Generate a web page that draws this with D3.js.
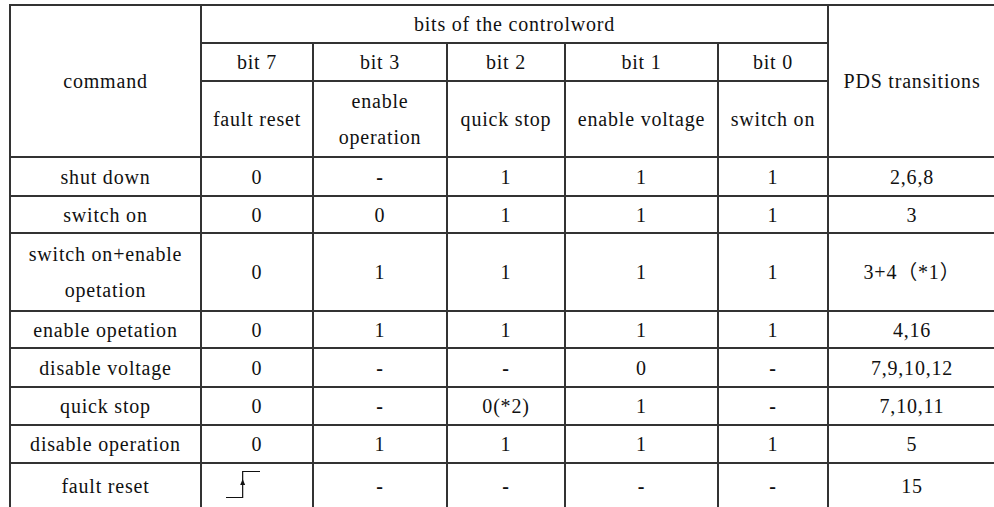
<!DOCTYPE html>
<html>
<head>
<meta charset="utf-8">
<script src="https://cdn.jsdelivr.net/npm/d3@7/dist/d3.min.js"></script>
<style>
  html, body { margin: 0; padding: 0; background: #fff; }
  svg { display: block; }
  text { font-family: "Liberation Serif", "Times New Roman", "Noto Sans CJK SC", serif; font-size: 20px; letter-spacing: 0.8px; fill: #111; }
</style>
</head>
<body>
<svg id="chart" width="994" height="507"></svg>
<script>
// ---------- data ----------
const groupTitle = "bits of the controlword";
const commandHeader = "command";
const pdsHeader = "PDS transitions";
const bitLabels = ["bit 7", "bit 3", "bit 2", "bit 1", "bit 0"];
const bitNames = ["fault reset", "enable\noperation", "quick stop", "enable voltage", "switch on"];
const commands = ["shut down", "switch on", "switch on+enable\nopetation", "enable opetation", "disable voltage", "quick stop", "disable operation", "fault reset"];
const bit7 = ["0", "0", "0", "0", "0", "0", "0", "RISING_EDGE"];
const bit3 = ["-", "0", "1", "1", "-", "-", "1", "-"];
const bit2 = ["1", "1", "1", "1", "-", "0(*2)", "1", "-"];
const bit1 = ["1", "1", "1", "1", "0", "1", "1", "-"];
const bit0 = ["1", "1", "1", "1", "-", "-", "1", "-"];
const pds = ["2,6,8", "3", "3+4（*1）", "4,16", "7,9,10,12", "7,10,11", "5", "15"];

// ---------- layout ----------
const colEdges = [10, 201, 313, 447, 565, 718, 828, 996];
const headerEdges = [5, 43, 81, 157];
const bodyRowHeights = [39, 37, 78, 37, 39, 38, 38, 45];
const lineGap = 36;
const stroke = "#333";
const strokeW = 2;

const svg = d3.select("#chart");

const nCols = colEdges.length - 1;
const colX = d3.scaleOrdinal().domain(d3.range(colEdges.length)).range(colEdges);
const bodyEdges = [headerEdges[3]];
bodyRowHeights.forEach(h => bodyEdges.push(bodyEdges[bodyEdges.length - 1] + h));
const rowY = d3.scaleOrdinal().domain(d3.range(bodyEdges.length)).range(bodyEdges);

// cells: {c0, c1, r0y, r1y, text}
const cells = [];
cells.push({ x0: colX(0), x1: colX(1), y0: headerEdges[0], y1: headerEdges[3], text: commandHeader });
cells.push({ x0: colX(1), x1: colX(6), y0: headerEdges[0], y1: headerEdges[1], text: groupTitle });
cells.push({ x0: colX(6), x1: colX(7), y0: headerEdges[0], y1: headerEdges[3], text: pdsHeader });
bitLabels.forEach((b, i) => cells.push({ x0: colX(i + 1), x1: colX(i + 2), y0: headerEdges[1], y1: headerEdges[2], text: b }));
bitNames.forEach((b, i) => cells.push({ x0: colX(i + 1), x1: colX(i + 2), y0: headerEdges[2], y1: headerEdges[3], text: b }));

const bodyCols = [commands, bit7, bit3, bit2, bit1, bit0, pds];
commands.forEach((_, r) => {
  bodyCols.forEach((col, c) => {
    cells.push({ x0: colX(c), x1: colX(c + 1), y0: rowY(r), y1: rowY(r + 1), text: col[r] });
  });
});

// borders
const g = svg.append("g");
g.selectAll("rect.cell").data(cells).join("rect")
  .attr("class", "cell")
  .attr("x", d => d.x0).attr("y", d => d.y0)
  .attr("width", d => d.x1 - d.x0).attr("height", d => d.y1 - d.y0)
  .attr("fill", "none").attr("stroke", stroke).attr("stroke-width", strokeW);

// texts
const textCells = cells.filter(d => d.text !== "RISING_EDGE");
const t = g.selectAll("text.cell").data(textCells).join("text")
  .attr("class", "cell")
  .attr("text-anchor", "middle");
t.each(function(d) {
  const lines = d.text.split("\n");
  const cx = (d.x0 + d.x1) / 2;
  const cy = (d.y0 + d.y1) / 2;
  const startY = cy - (lines.length - 1) * lineGap / 2;
  d3.select(this).selectAll("tspan").data(lines).join("tspan")
    .attr("x", cx)
    .attr("y", (l, i) => startY + i * lineGap)
    .attr("dy", "0.35em")
    .style("font-weight", l => l === "-" ? "bold" : null)
    .text(l => l);
});

// rising edge symbol
cells.filter(d => d.text === "RISING_EDGE").forEach(d => {
  const cx = (d.x0 + d.x1) / 2;
  const cy = (d.y0 + d.y1) / 2;
  const w = 34, h = 26;
  const xL = cx - 31, xE = xL + w * 0.49, xR = xL + w;
  const yB = cy + h / 2 - 1, yT = yB - h;
  g.append("path")
    .attr("d", d3.line()([[xL, yB], [xE, yB], [xE, yT], [xR, yT]]))
    .attr("fill", "none").attr("stroke", "#111").attr("stroke-width", 1.2);
  const ay = yT + h * 0.37;
  g.append("path")
    .attr("d", d3.line()([[xE - 2.5, ay + 4], [xE, ay - 2], [xE + 2.5, ay + 4]]) + "Z")
    .attr("fill", "#111");
});
</script>
</body>
</html>
